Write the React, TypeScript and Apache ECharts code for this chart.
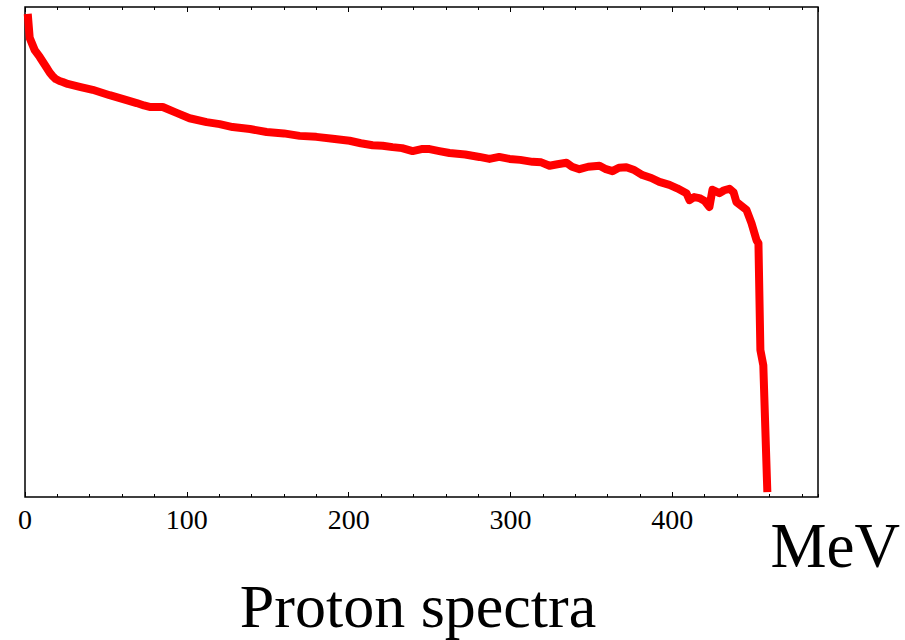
import React, { useEffect, useRef } from "react";
import * as echarts from "echarts";

// Energy (MeV) of each sample along the spectrum
const energy = [
  1.7, 2.9, 6.0, 9.1, 13.4, 15.3, 17.1, 19.0, 21.4, 23.3, 26.4, 33.8, 41.8, 52.3, 62.8, 69.0, 73.5,
  77.0, 85.1, 93.7, 101.7, 112.2, 120.3, 128.3, 139.0, 149.3, 160.0, 169.7, 180.0, 190.1, 200.6,
  207.5, 214.8, 221.0, 227.1, 233.0, 239.5, 245.0, 250.0, 256.0, 262.3, 272.0, 280.8, 287.0, 293.0,
  299.4, 306.0, 313.6, 319.0, 324.1, 329.0, 334.6, 338.0, 342.6, 348.0, 355.0, 359.0, 363.0, 367.0,
  371.6, 376.0, 381.5, 387.0, 392.0, 398.2, 403.0, 408.7, 410.6, 413.5, 416.7, 420.0, 422.9, 424.8,
  429.1, 432.0, 435.3, 437.8, 439.6, 445.8, 448.9, 452.0, 453.2, 454.4, 456.2, 458.7,
];
// Relative intensity (arbitrary units, unlabeled axis)
const intensity = [
  98.6, 93.7, 91.2, 89.8, 87.6, 86.6, 85.9, 85.3, 84.9, 84.7, 84.3, 83.7, 83.1, 82.0, 81.0, 80.4,
  79.9, 79.6, 79.6, 78.4, 77.3, 76.5, 76.1, 75.5, 75.1, 74.5, 74.2, 73.7, 73.5, 73.1, 72.7, 72.2,
  71.8, 71.7, 71.4, 71.2, 70.6, 71.0, 71.0, 70.6, 70.2, 69.9, 69.4, 69.0, 69.4, 69.0, 68.8, 68.4,
  68.3, 67.6, 67.9, 68.2, 67.4, 66.9, 67.4, 67.6, 66.9, 66.5, 67.2, 67.3, 66.8, 65.7, 65.1, 64.3,
  63.7, 63.0, 62.0, 60.6, 61.2, 61.0, 60.4, 59.2, 62.7, 62.0, 62.6, 62.9, 62.2, 60.2, 58.6, 55.9,
  52.4, 51.8, 30.0, 26.9, 1.0,
];

const xMin = 0;
const xMax = 490;
const majorStep = 100;
const minorStep = 20;

export default function App() {
  const ref = useRef<HTMLDivElement>(null);

  useEffect(() => {
    if (!ref.current) return;
    const chart = echarts.init(ref.current, null, { renderer: "svg" });
    const data = energy.map((e, i) => [e, intensity[i]]);
    const baseAxis = {
      type: "value" as const,
      min: xMin,
      max: xMax,
      splitLine: { show: false },
      axisLine: { show: false },
    };
    chart.setOption({
      animation: false,
      backgroundColor: "#fff",
      grid: {
        left: 25,
        top: 7,
        right: 87,
        bottom: 143,
        show: true,
        borderColor: "#000",
        borderWidth: 1.5,
        backgroundColor: "transparent",
      },
      xAxis: [
        {
          ...baseAxis,
          position: "bottom",
          interval: majorStep,
          axisTick: { show: true, inside: true, length: 5, lineStyle: { color: "#000", width: 1 } },
          axisLabel: {
            show: true,
            color: "#000",
            fontFamily: "Liberation Serif",
            fontSize: 28,
            margin: 8,
            showMaxLabel: false,
          },
        },
        {
          ...baseAxis,
          position: "bottom",
          interval: minorStep,
          axisTick: { show: true, inside: true, length: 3, lineStyle: { color: "#000", width: 1 } },
          axisLabel: { show: false },
        },
        {
          ...baseAxis,
          position: "top",
          interval: majorStep,
          axisTick: { show: true, inside: true, length: 5, lineStyle: { color: "#000", width: 1 } },
          axisLabel: { show: false },
        },
        {
          ...baseAxis,
          position: "top",
          interval: minorStep,
          axisTick: { show: true, inside: true, length: 3, lineStyle: { color: "#000", width: 1 } },
          axisLabel: { show: false },
        },
      ],
      yAxis: {
        type: "value",
        min: 0,
        max: 100,
        show: false,
      },
      series: [
        {
          type: "line",
          xAxisIndex: 0,
          data,
          showSymbol: false,
          symbol: "none",
          smooth: false,
          lineStyle: { color: "#ff0000", width: 8, join: "round", cap: "butt" },
        },
      ],
      graphic: [
        {
          type: "text",
          right: 5,
          top: 514,
          style: {
            text: "MeV",
            fill: "#000",
            font: "63px 'Liberation Serif'",
          },
        },
        {
          type: "text",
          x: 418,
          y: 575,
          style: {
            text: "Proton spectra",
            fill: "#000",
            font: "62px 'Liberation Serif'",
            align: "center",
            verticalAlign: "top",
          },
        },
      ],
    });
    return () => chart.dispose();
  }, []);

  return <div ref={ref} style={{ width: 905, height: 640, position: "absolute", left: 0, top: 0 }} />;
}
